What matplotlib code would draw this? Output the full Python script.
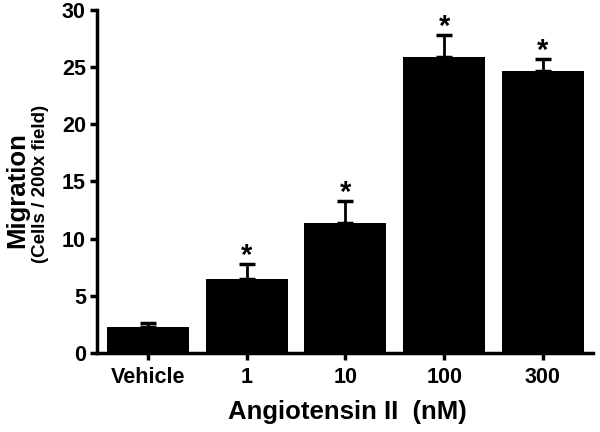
import matplotlib
matplotlib.use('Agg')
import matplotlib.pyplot as plt
import numpy as np

# values
groups = ['Vehicle', '1', '10', '100', '300']
migration = [2.3, 6.5, 11.4, 25.9, 24.7]
sem = [0.35, 1.25, 1.9, 1.9, 1.0]
significant = [False, True, True, True, True]

plt.rcParams['font.family'] = ['Liberation Sans', 'DejaVu Sans']
plt.rcParams['font.weight'] = 'bold'

fig = plt.figure(figsize=(6, 4.32), dpi=100)
ax = fig.add_axes([0.1617, 0.1829, 0.8263, 0.7941])

x = np.arange(len(groups))
ax.bar(x, migration, width=0.83, color='black', zorder=3)
ax.errorbar(x, migration, yerr=[np.zeros(len(sem)), sem], fmt='none',
            ecolor='black', elinewidth=2, capsize=6, capthick=2.5, zorder=2)

for xi, m, e, s in zip(x, migration, sem, significant):
    if s:
        ax.annotate('*', (xi, m + e), xytext=(0, -4), textcoords='offset points',
                    ha='center', va='bottom', fontsize=21, fontweight='bold')

ax.set_xlim(-0.515, 4.505)
ax.set_ylim(0, 30)
ax.set_yticks([0, 5, 10, 15, 20, 25, 30])
ax.set_xticks(x)
ax.set_xticklabels(groups)

for side in ['top', 'right']:
    ax.spines[side].set_visible(False)
for side in ['left', 'bottom']:
    ax.spines[side].set_linewidth(2.5)
ax.tick_params(axis='both', direction='out', length=5, width=2.5, labelsize=15.5, pad=3)
ax.tick_params(axis='x', pad=5)
for lab in ax.get_xticklabels() + ax.get_yticklabels():
    lab.set_fontweight('bold')

fig.text(347 / 600, 1 - 412 / 432, 'Angiotensin II  (nM)', ha='center', va='center',
         fontsize=18.5, fontweight='bold')
fig.text(17 / 600, 1 - 190 / 432, 'Migration', rotation=90, ha='center', va='center',
         fontsize=18.5, fontweight='bold')
fig.text(41 / 600, 1 - 184 / 432, '(Cells / 200x field)', rotation=90, ha='center',
         va='center', fontsize=13.5, fontweight='bold')

fig.savefig('out.png', dpi=100)
